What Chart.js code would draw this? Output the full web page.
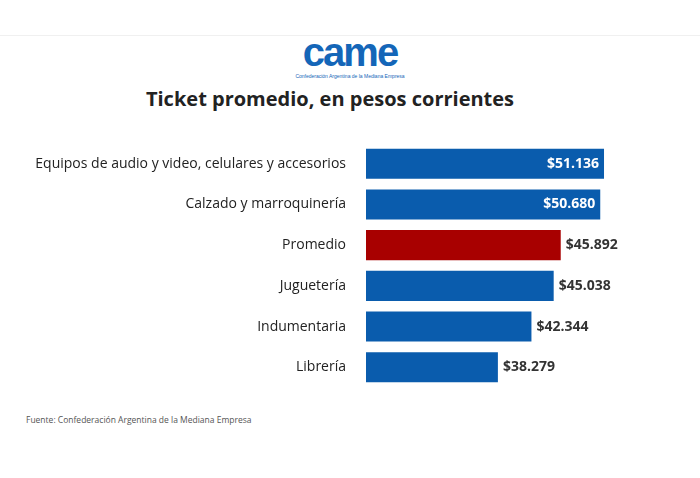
<!DOCTYPE html>
<html><head><meta charset="utf-8">
<script src="https://cdn.jsdelivr.net/npm/chart.js@4"></script>
<style>
body{margin:0;background:#fff;font-family:"Open Sans",sans-serif;width:700px;height:478px;position:relative;overflow:hidden}
#topline{position:absolute;left:0;right:0;top:35px;border-top:1px solid #f0f0f0}
#logo{position:absolute;left:0;width:700px;top:30px;text-align:center;color:#1466b8;font:bold 40px "Liberation Sans",Arial,sans-serif;letter-spacing:-2px}
#logosub{position:absolute;left:0;width:700px;top:73px;text-align:center;color:#1466b8;font:5px "Liberation Sans",Arial,sans-serif}
#title{position:absolute;left:0;width:660px;top:85px;text-align:center;font-weight:bold;font-size:20px;color:#222}
#wrap{position:absolute;left:0;top:123px;width:700px;height:285px}
#src{position:absolute;left:26px;top:414px;font-size:8.5px;color:#555}
</style></head><body>
<div id="topline"></div>
<div id="logo">came</div>
<div id="logosub">Confederación Argentina de la Mediana Empresa</div>
<div id="title">Ticket promedio, en pesos corrientes</div>
<div id="wrap"><canvas id="c" width="700" height="285"></canvas></div>
<div id="src">Fuente: Confederación Argentina de la Mediana Empresa</div>
<script>
// Data
const categories = ["Equipos de audio y video, celulares y accesorios", "Calzado y marroquinería", "Promedio", "Juguetería", "Indumentaria", "Librería"];
const values = [51136, 50680, 45892, 45038, 42344, 38279];
const colors = ["#0a5cad", "#0a5cad", "#a80000", "#0a5cad", "#0a5cad", "#0a5cad"];
const insideLabel = [true, true, false, false, false, false];

const fmt = (v) => "$" + v.toLocaleString("de-DE");

const valueLabels = {
  id: "valueLabels",
  afterDatasetsDraw(chart) {
    const ctx = chart.ctx;
    const meta = chart.getDatasetMeta(0);
    ctx.save();
    ctx.font = "bold 14px 'Open Sans'";
    ctx.textBaseline = "middle";
    meta.data.forEach((bar, i) => {
      if (insideLabel[i]) {
        ctx.fillStyle = "#fff";
        ctx.textAlign = "right";
        ctx.fillText(fmt(values[i]), bar.x - 5, bar.y);
      } else {
        ctx.fillStyle = "#333";
        ctx.textAlign = "left";
        ctx.fillText(fmt(values[i]), bar.x + 5, bar.y);
      }
    });
    ctx.restore();
  }
};

new Chart(document.getElementById("c"), {
  type: "bar",
  data: { labels: categories, datasets: [{ data: values, backgroundColor: colors, barPercentage: 0.74, categoryPercentage: 1 }] },
  options: {
    indexAxis: "y",
    responsive: false,
    animation: false,
    layout: { padding: 0 },
    plugins: { legend: { display: false }, tooltip: { enabled: false } },
    scales: {
      x: { display: false, min: 22300, max: 62765 },
      y: {
        grid: { display: false },
        border: { display: false },
        afterFit: (s) => { s.width = 366; },
        ticks: { color: "#222", font: { size: 14, family: "Open Sans" }, padding: 12 }
      }
    }
  },
  plugins: [valueLabels]
});
</script>
</body></html>
